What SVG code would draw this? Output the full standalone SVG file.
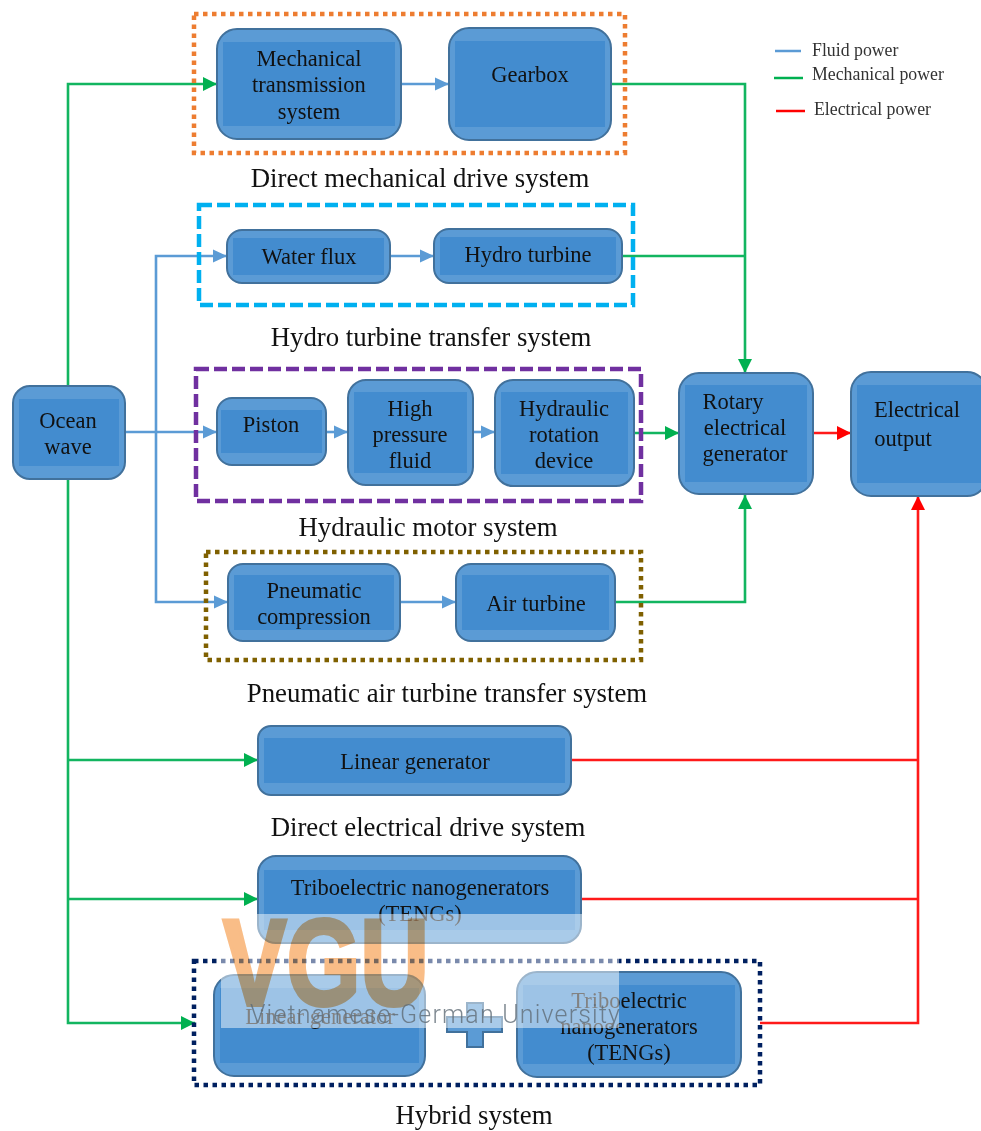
<svg xmlns="http://www.w3.org/2000/svg" width="981" height="1131" viewBox="0 0 981 1131">
<style>
.o{fill:#5b9bd5;stroke:#41719c;stroke-width:2}
.i{fill:#438ccf}
text{font-family:"Liberation Serif","Times New Roman",serif;fill:#111;text-anchor:middle}
.n{font-size:22.5px}
.c{font-size:26.8px}
.l{font-size:17.8px;text-anchor:start;fill:#333}
.b{fill:none;stroke-width:2.6}
.g{stroke:#12b560}.f{stroke:#5b9bd5}.r{stroke:#ff1a1a}
.frame{fill:none;stroke-width:4.5}
</style>
<defs>
<marker id="ag" markerUnits="userSpaceOnUse" markerWidth="14" markerHeight="14" refX="14" refY="7" orient="auto"><path d="M0 0L14 7L0 14Z" fill="#00b050"/></marker>
<marker id="af" markerUnits="userSpaceOnUse" markerWidth="14" markerHeight="14" refX="14" refY="7" orient="auto"><path d="M0 0.5L14 7L0 13.5Z" fill="#5b9bd5"/></marker>
<marker id="ar" markerUnits="userSpaceOnUse" markerWidth="14" markerHeight="14" refX="14" refY="7" orient="auto"><path d="M0 0L14 7L0 14Z" fill="#ff0000"/></marker>
</defs>
<rect width="981" height="1131" fill="#fff"/>
<g id="connectors">
<path class="b g" marker-end="url(#ag)" d="M68 386V84H217"/>
<path class="b g" marker-end="url(#ag)" d="M611 84H745V373"/>
<path class="b g" d="M622 256H745"/>
<path class="b g" marker-end="url(#ag)" d="M634 433H679"/>
<path class="b g" marker-end="url(#ag)" d="M615 602H745V495"/>
<path class="b g" marker-end="url(#ag)" d="M68 479V1023H195"/>
<path class="b g" marker-end="url(#ag)" d="M68 760H258"/>
<path class="b g" marker-end="url(#ag)" d="M68 899H258"/>
<path class="b r" marker-end="url(#ar)" d="M813 433H851"/>
<path class="b r" d="M571 760H918"/>
<path class="b r" d="M581 899H918"/>
<path class="b r" marker-end="url(#ar)" d="M760 1023H918V496"/>
<path class="b f" marker-end="url(#af)" d="M125 432H217"/>
<path class="b f" marker-end="url(#af)" d="M156 432V256H227"/>
<path class="b f" marker-end="url(#af)" d="M156 432V602H228"/>
<path class="b f" marker-end="url(#af)" d="M401 84H449"/>
<path class="b f" marker-end="url(#af)" d="M390 256H434"/>
<path class="b f" marker-end="url(#af)" d="M326 432H348"/>
<path class="b f" marker-end="url(#af)" d="M473 432H495"/>
<path class="b f" marker-end="url(#af)" d="M400 602H456"/>
</g>
<g id="frames">
<rect class="frame" x="194" y="14" width="431" height="139" stroke="#ed7d31" stroke-dasharray="4.5 4.5"/>
<rect class="frame" x="199" y="205" width="434" height="100" stroke="#00b0f0" stroke-dasharray="13 5"/>
<rect class="frame" x="196" y="369" width="445" height="132" stroke="#7030a0" stroke-dasharray="13 5"/>
<rect class="frame" x="206" y="552" width="435" height="108" stroke="#7f6000" stroke-dasharray="4.5 4.5"/>
<rect class="frame" x="194" y="961" width="566" height="124" stroke="#002060" stroke-dasharray="4.5 4.5"/>
</g>
<g id="mechanical"><rect class="o" x="217" y="29" width="184" height="110" rx="20"/><rect class="i" x="223" y="42" width="172" height="84"/><text class="n" x="309" y="66">Mechanical</text><text class="n" x="309" y="92">transmission</text><text class="n" x="309" y="119">system</text></g>
<g id="gearbox"><rect class="o" x="449" y="28" width="162" height="112" rx="20"/><rect class="i" x="455" y="41" width="150" height="86"/><text class="n" x="530" y="82">Gearbox</text></g>
<g id="water"><rect class="o" x="227" y="230" width="163" height="53" rx="15"/><rect class="i" x="233" y="238" width="151" height="37"/><text class="n" x="309" y="264">Water flux</text></g>
<g id="hydro"><rect class="o" x="434" y="229" width="188" height="54" rx="15"/><rect class="i" x="440" y="237" width="176" height="38"/><text class="n" x="528" y="262">Hydro turbine</text></g>
<g id="ocean"><rect class="o" x="13" y="386" width="112" height="93" rx="17"/><rect class="i" x="19" y="399" width="100" height="67"/><text class="n" x="68" y="428">Ocean</text><text class="n" x="68" y="454">wave</text></g>
<g id="piston"><rect class="o" x="217" y="398" width="109" height="67" rx="15"/><rect class="i" x="221" y="410" width="101" height="43"/><text class="n" x="271" y="432">Piston</text></g>
<g id="hp"><rect class="o" x="348" y="380" width="125" height="105" rx="18"/><rect class="i" x="354" y="392" width="113" height="81"/><text class="n" x="410" y="416">High</text><text class="n" x="410" y="442">pressure</text><text class="n" x="410" y="468">fluid</text></g>
<g id="hydraulic"><rect class="o" x="495" y="380" width="139" height="106" rx="18"/><rect class="i" x="501" y="392" width="127" height="82"/><text class="n" x="564" y="416">Hydraulic</text><text class="n" x="564" y="442">rotation</text><text class="n" x="564" y="468">device</text></g>
<g id="rotary"><rect class="o" x="679" y="373" width="134" height="121" rx="20"/><rect class="i" x="685" y="385" width="122" height="97"/><text class="n" x="733" y="409">Rotary</text><text class="n" x="745" y="435">electrical</text><text class="n" x="745" y="461">generator</text></g>
<g id="output"><rect class="o" x="851" y="372" width="136" height="124" rx="20"/><rect class="i" x="857" y="385" width="124" height="98"/><text class="n" x="917" y="417">Electrical</text><text class="n" x="903" y="446">output</text></g>
<g id="pneumatic"><rect class="o" x="228" y="564" width="172" height="77" rx="15"/><rect class="i" x="234" y="575" width="160" height="55"/><text class="n" x="314" y="598">Pneumatic</text><text class="n" x="314" y="624">compression</text></g>
<g id="air"><rect class="o" x="456" y="564" width="159" height="77" rx="15"/><rect class="i" x="462" y="575" width="147" height="55"/><text class="n" x="536" y="611">Air turbine</text></g>
<g id="linear"><rect class="o" x="258" y="726" width="313" height="69" rx="13"/><rect class="i" x="264" y="738" width="301" height="45"/><text class="n" x="415" y="769">Linear generator</text></g>
<g id="teng"><rect class="o" x="258" y="856" width="323" height="87" rx="18"/><rect class="i" x="264" y="870" width="311" height="60"/><text class="n" x="420" y="895">Triboelectric nanogenerators</text><text class="n" x="420" y="921">(TENGs)</text></g>
<g id="hlinear"><rect class="o" x="214" y="975" width="211" height="101" rx="20"/><rect class="i" x="220" y="988" width="199" height="75"/><text class="n" x="320" y="1024">Linear generator</text></g>
<g id="plus"><path class="o" d="M467 1003H483V1017H502V1032H483V1047H467V1032H447V1017H467Z"/></g>
<g id="hteng"><rect class="o" x="517" y="972" width="224" height="105" rx="20"/><rect class="i" x="523" y="985" width="212" height="79"/><text class="n" x="629" y="1008">Triboelectric</text><text class="n" x="629" y="1034">nanogenerators</text><text class="n" x="629" y="1060">(TENGs)</text></g>
<g id="captions">
<text class="c" x="420" y="187">Direct mechanical drive system</text>
<text class="c" x="431" y="346">Hydro turbine transfer system</text>
<text class="c" x="428" y="536">Hydraulic motor system</text>
<text class="c" x="447" y="702">Pneumatic air turbine transfer system</text>
<text class="c" x="428" y="836">Direct electrical drive system</text>
<text class="c" x="474" y="1124">Hybrid system</text>
</g>
<g id="legend">
<path d="M775 51H801" stroke="#5b9bd5" stroke-width="2.5"/>
<path d="M774 78H803" stroke="#00b050" stroke-width="2.5"/>
<path d="M776 111H805" stroke="#ff0000" stroke-width="2.5"/>
<text class="l" x="812" y="56">Fluid power</text>
<text class="l" x="812" y="80">Mechanical power</text>
<text class="l" x="814" y="115">Electrical power</text>
</g>
<g id="watermark">
<rect x="221" y="914" width="398" height="114" fill="#fff" fill-opacity=".48"/>
<text x="326" y="1005" font-size="122" font-weight="700" textLength="206" lengthAdjust="spacingAndGlyphs" style="font-family:'Liberation Sans',Arial,sans-serif;fill:#f9bd87;stroke:#f9bd87;stroke-width:4;mix-blend-mode:multiply">VGU</text>
<text x="435" y="1023" font-size="25" textLength="370" lengthAdjust="spacing" style="font-family:Roboto,sans-serif;fill:#5f6b76;fill-opacity:.8;font-weight:300">Vietnamese-German University</text>
</g>
</svg>
